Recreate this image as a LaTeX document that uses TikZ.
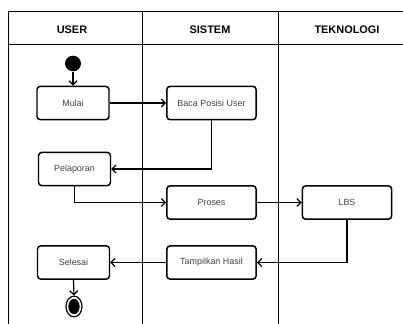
\documentclass[tikz,border=0pt]{standalone}
\usepackage{fontspec}
\setmainfont{Liberation Sans}
\usetikzlibrary{arrows.meta,shapes.geometric}

\tikzset{
	lane/.style={draw, line width=0.75},
	lanehead/.style={font=\bfseries\fontsize{8.2}{10}\selectfont},
	act/.style={draw, rounded corners=2.5, line width=1.1, minimum width=54pt, minimum height=25pt, inner sep=1pt, text=black!75, font=\fontsize{6.7}{8}\selectfont},
	actwide/.style={act, minimum width=67pt},
	flow/.style={-{Straight Barb[length=3pt,width=6pt]}, line width=0.9},
}

\begin{document}
\begin{tikzpicture}[x=0.75pt,y=0.75pt,yscale=-1,xscale=1]
	\useasboundingbox (0,0) rectangle (403,324);
	
	%Swimlanes
	\draw [lane] (8,324) -- (8,12) -- (403,12) ;
	\draw [lane] (8,45) -- (403,45) ;
	\draw [lane] (142,12) -- (142,324) ;
	\draw [lane] (278,12) -- (278,324) ;
	
	% Lane headers
	\node [lanehead] (huser) at (72,30) {USER};
	\node [lanehead] (hsistem) at (210,30) {SISTEM};
	\node [lanehead] (htekno) at (347,30) {TEKNOLOGI};
	
	%Start / end states
	\node [ellipse, fill=black, inner sep=0pt, minimum width=12pt, minimum height=11.7pt] (start) at (73,63.5) {};
	\node [ellipse, draw, line width=0.9, fill=white, inner sep=0pt, minimum width=12pt, minimum height=15.5pt] (stop) at (74,306.5) {};
	\node [ellipse, fill=black, inner sep=0pt, minimum width=8.5pt, minimum height=11.5pt] (stopdot) at (stop) {};
	
	% Activities
	\node [act] (mulai) at (73,103) {Mulai};
	\node [actwide] (baca) at (211.5,103) {Baca Posisi User};
	\node [act] (lapor) at (74.5,169) {Pelaporan};
	\node [actwide] (proses) at (211.5,202.5) {Proses};
	\node [actwide] (lbs) at (347,202.5) {LBS};
	\node [actwide] (tampil) at (211.5,262.5) {Tampilkan Hasil};
	\node [act] (selesai) at (73.5,262.5) {Selesai};
	
	% Flows
	\draw [flow] (start) -- (mulai) ;
	\draw [flow] (mulai) -- (baca) ;
	\draw [flow] (baca.south) |- (lapor.east) ;
	\draw [flow] (lapor.south) |- (proses.west) ;
	\draw [flow] (proses) -- (lbs) ;
	\draw [flow] (lbs.south) |- (tampil.east) ;
	\draw [flow] (tampil) -- (selesai) ;
	\draw [flow] (selesai.south) -- (stop.north) ;
	
\end{tikzpicture}
\end{document}
